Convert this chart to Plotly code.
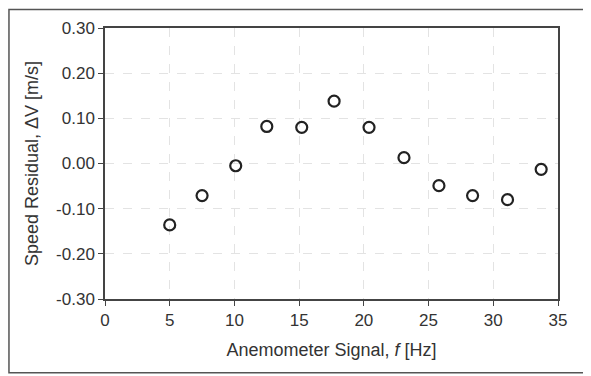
import plotly.graph_objects as go

signal_hz = [5.0, 7.5, 10.1, 12.5, 15.2, 17.7, 20.4, 23.1, 25.8, 28.4, 31.1, 33.7]
residual_ms = [-0.136, -0.071, -0.005, 0.082, 0.080, 0.138, 0.080, 0.013, -0.049, -0.071, -0.080, -0.013]
x_ticks = [0, 5, 10, 15, 20, 25, 30, 35]
y_ticks = [-0.30, -0.20, -0.10, 0.00, 0.10, 0.20, 0.30]

fig = go.Figure()
fig.add_trace(go.Scatter(
    x=signal_hz, y=residual_ms, mode="markers",
    marker=dict(symbol="circle-open", size=11, color="#222", line=dict(width=2.2, color="#222")),
    showlegend=False,
))

tick_font = dict(family="Liberation Sans, Arial, sans-serif", size=17, color="#333")
title_font = dict(family="Liberation Sans, Arial, sans-serif", size=18, color="#333")
fig.update_layout(
    width=583, height=368,
    margin=dict(l=97, r=33, t=20, b=77),
    paper_bgcolor="white", plot_bgcolor="white",
    font=tick_font,
    xaxis=dict(
        range=[0, 35], tickvals=x_ticks, ticktext=[str(v) for v in x_ticks],
        showline=True, linecolor="#444", linewidth=1.5, mirror=True,
        ticks="outside", ticklen=5, tickcolor="#444", tickfont=tick_font,
        showgrid=True, gridcolor="#e3e3e3", griddash="dash", gridwidth=1,
        zeroline=False,
        title=dict(text="Anemometer Signal, <i>f</i> [Hz]", standoff=14, font=title_font),
    ),
    yaxis=dict(
        range=[-0.30, 0.30], tickvals=y_ticks, ticktext=[f"{v:.2f}" for v in y_ticks],
        showline=True, linecolor="#444", linewidth=1.5, mirror=True,
        ticks="outside", ticklen=5, tickcolor="#444", tickfont=tick_font,
        showgrid=True, gridcolor="#e3e3e3", griddash="dash", gridwidth=1,
        zeroline=False,
        title=dict(text="Speed Residual, ΔV [m/s]", standoff=13, font=title_font),
    ),
)
fig.add_shape(type="rect", xref="paper", yref="paper",
              x0=-0.212, x1=1.4, y0=-0.272, y1=1.068,
              line=dict(color="#555", width=1.5))
fig.write_html("out.html")
